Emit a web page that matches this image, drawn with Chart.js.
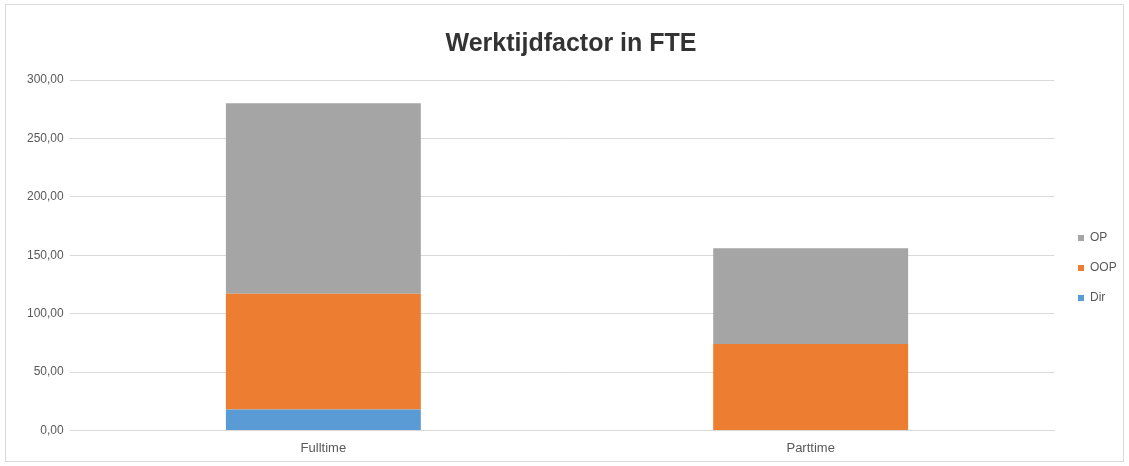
<!DOCTYPE html>
<html>
<head>
<meta charset="utf-8">
<script src="https://cdn.jsdelivr.net/npm/chart.js@4/dist/chart.umd.min.js"></script>
<style>
  html, body { margin: 0; padding: 0; background: #fff; }
  #wrap { width: 1129px; height: 466px; position: relative; }
</style>
</head>
<body>
<div id="wrap"><canvas id="c" width="1129" height="466"></canvas></div>
<script>
const categories = ["Fulltime", "Parttime"];
const seriesNames = ["Dir", "OOP", "OP"];
const dirValues = [18, 0];
const oopValues = [99, 74];
const opValues = [163, 82];
const yTicks = [0, 50, 100, 150, 200, 250, 300];

const frame = {
  id: 'frame',
  beforeDraw(chart) {
    const ctx = chart.ctx;
    ctx.save();
    ctx.fillStyle = '#ffffff';
    ctx.fillRect(0, 0, chart.width, chart.height);
    ctx.strokeStyle = '#d9d9d9';
    ctx.lineWidth = 1;
    ctx.strokeRect(5.5, 4.5, chart.width - 11, chart.height - 9);
    ctx.restore();
  }
};

const legendPlace = {
  id: 'legendPlace',
  afterLayout(chart) {
    const lg = chart.legend;
    if (!lg) return;
    const w = lg.right - lg.left;
    lg.left = 1060; lg.right = lg.left + w;
    const h = lg.bottom - lg.top;
    lg.top = 214; lg.bottom = lg.top + h;
  }
};

new Chart(document.getElementById('c'), {
  type: 'bar',
  data: {
    labels: categories,
    datasets: [
      { label: seriesNames[0], data: dirValues, backgroundColor: '#5B9BD5' },
      { label: seriesNames[1], data: oopValues, backgroundColor: '#ED7D31' },
      { label: seriesNames[2], data: opValues, backgroundColor: '#A5A5A5' }
    ]
  },
  options: {
    responsive: false,
    animation: false,
    layout: { padding: { left: 21, right: 8, top: 29, bottom: 0 } },
    datasets: { bar: { categoryPercentage: 0.4, barPercentage: 1.0 } },
    plugins: {
      title: {
        display: true,
        text: 'Werktijdfactor in FTE',
        color: '#333333',
        font: { family: 'Liberation Sans', size: 25, weight: 'bold' },
        padding: { top: 0, bottom: 21 }
      },
      legend: {
        position: 'right',
        align: 'start',
        reverse: true,
        labels: {
          boxWidth: 6, boxHeight: 6,
          padding: 18,
          color: '#595959',
          font: { family: 'Liberation Sans', size: 12 }
        }
      },
      tooltip: { enabled: false }
    },
    scales: {
      x: {
        stacked: true,
        grid: { display: false, drawTicks: false },
        border: { display: true, color: '#d9d9d9' },
        ticks: { color: '#595959', font: { family: 'Liberation Sans', size: 13 }, padding: 10 }
      },
      y: {
        stacked: true,
        min: 0, max: 300,
        afterBuildTicks(axis) { axis.ticks = yTicks.map(v => ({ value: v })); },
        grid: { color: '#d9d9d9', tickLength: 10, tickColor: '#d9d9d9' },
        border: { display: false },
        ticks: {
          color: '#595959',
          font: { family: 'Liberation Sans', size: 12 },
          padding: 6,
          callback: v => v.toFixed(2).replace('.', ',')
        }
      }
    }
  },
  plugins: [frame, legendPlace]
});
</script>
</body>
</html>
